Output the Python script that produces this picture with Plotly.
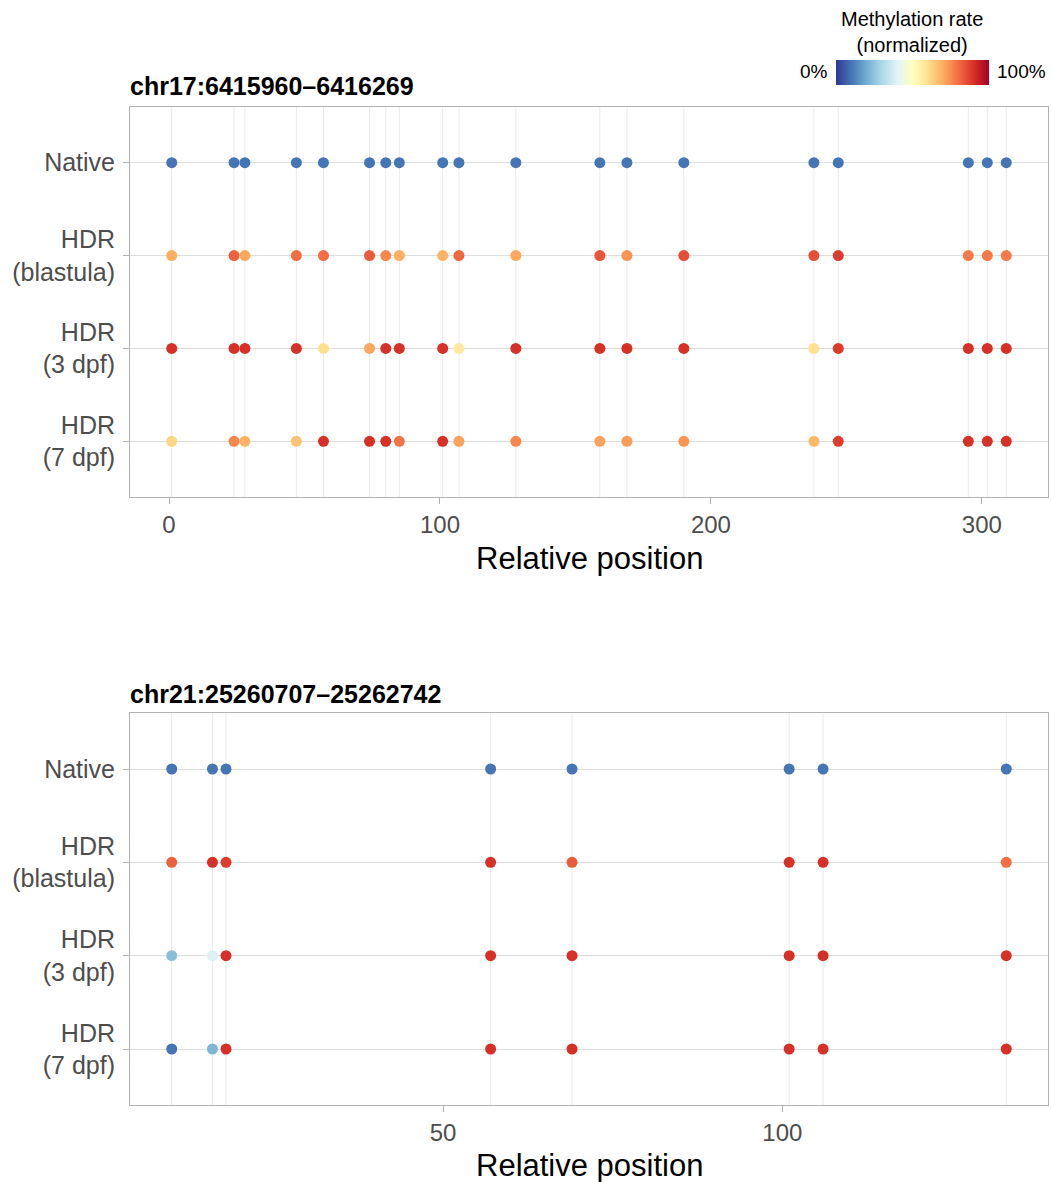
import plotly.graph_objects as go

# ---------------- data ----------------
samples = ["Native", "HDR (blastula)", "HDR (3 dpf)", "HDR (7 dpf)"]
sample_labels = ["Native", "HDR<br>(blastula)", "HDR<br>(3 dpf)", "HDR<br>(7 dpf)"]

region1_title = "chr17:6415960–6416269"
region1_pos = [1, 24, 28, 47, 57, 74, 80, 85, 101, 107, 128, 159, 169, 190, 238, 247, 295, 302, 309]
region1_native = [10, 10, 10, 10, 10, 10, 10, 10, 10, 10, 10, 10, 10, 10, 10, 10, 10, 10, 10]
region1_blastula = [70, 82, 71, 80, 80, 83, 76, 70, 69, 81, 71, 84, 74, 85, 85, 88, 78, 78, 78]
region1_3dpf = [90, 90, 90, 90, 60, 71, 90, 90, 90, 57, 90, 90, 90, 90, 60, 88, 90, 90, 90]
region1_7dpf = [62, 76, 69, 66, 90, 90, 90, 79, 90, 72, 76, 72, 73, 74, 68, 88, 90, 90, 90]
region1_ticks = [0, 100, 200, 300]

region2_title = "chr21:25260707–25262742"
region2_pos = [10, 16, 18, 57, 69, 101, 106, 133]
region2_native = [10, 10, 10, 10, 10, 10, 10, 10]
region2_blastula = [82, 90, 88, 90, 83, 90, 90, 80]
region2_3dpf = [24, 39, 90, 90, 90, 90, 90, 90]
region2_7dpf = [10, 22, 90, 90, 90, 90, 90, 90]
region2_ticks = [50, 100]

colorbar_title = "Methylation rate<br>(normalized)"
colorbar_labels = ["0%", "100%"]

# ---------------- style ----------------
W, H = 1051, 1182
FONT = "Liberation Sans, Arial, Helvetica, sans-serif"
rdylbu_r = ["#313695", "#4575b4", "#74add1", "#abd9e9", "#e0f3f8", "#ffffbf",
            "#fee090", "#fdae61", "#f46d43", "#d73027", "#a50026"]
cscale = [[i / 10, c] for i, c in enumerate(rdylbu_r)]

def px_x(p):
    return p / W

def px_y(p):
    return 1 - p / H

panel_x = [px_x(130), px_x(1048)]
panel1_y = [px_y(497), px_y(107)]
panel2_y = [px_y(1105), px_y(713)]

fig = go.Figure()

regions = [
    (region1_pos, [region1_native, region1_blastula, region1_3dpf, region1_7dpf], "x", "y"),
    (region2_pos, [region2_native, region2_blastula, region2_3dpf, region2_7dpf], "x2", "y2"),
]

first = True
for pos, rows, xa, ya in regions:
    xs, ys, cs = [], [], []
    for lab, vals in zip(sample_labels, rows):
        xs += pos
        ys += [lab] * len(pos)
        cs += vals
    fig.add_trace(go.Scatter(
        x=xs, y=ys, mode="markers", xaxis=xa, yaxis=ya,
        marker=dict(size=11, color=cs, colorscale=cscale, cmin=0, cmax=100,
                    showscale=first,
                    colorbar=dict(orientation="h", thickness=25, thicknessmode="pixels",
                                  len=153, lenmode="pixels",
                                  x=px_x(912), xanchor="center",
                                  y=px_y(60), yanchor="top",
                                  xpad=0, ypad=0, showticklabels=False, ticks="",
                                  outlinewidth=0)),
        showlegend=False, hoverinfo="skip"))
    first = False
    # vertical gridlines at CpG positions
    for p in pos:
        fig.add_shape(type="line", xref=xa, yref=ya + " domain", x0=p, x1=p, y0=0, y1=1,
                      line=dict(color="#ebebeb", width=1), layer="below")

def xr(pos):
    span = max(pos) - min(pos)
    return [min(pos) - 0.05 * span, max(pos) + 0.05 * span]

axis_common = dict(showline=True, mirror=True, linecolor="#b3b3b3", linewidth=1,
                   ticks="outside", ticklen=6, tickcolor="#b3b3b3", tickwidth=1,
                   automargin=False, zeroline=False, fixedrange=True)
xfont = dict(family=FONT, size=24, color="#4d4d4d")
yfont = dict(family=FONT, size=25, color="#4d4d4d")

fig.update_layout(
    width=W, height=H,
    margin=dict(l=0, r=0, t=0, b=0),
    paper_bgcolor="white", plot_bgcolor="white",
    font=dict(family=FONT),
    xaxis=dict(domain=panel_x, anchor="y", range=xr(region1_pos), tickmode="array",
               tickvals=region1_ticks, showgrid=False, tickfont=xfont, **axis_common),
    yaxis=dict(domain=panel1_y, anchor="x", type="category", categoryorder="array",
               categoryarray=sample_labels, range=[3.6, -0.6], showgrid=True,
               gridcolor="#dedede", gridwidth=1.2, tickfont=yfont,
               ticklabelstandoff=3, **axis_common),
    xaxis2=dict(domain=panel_x, anchor="y2", range=xr(region2_pos), tickmode="array",
                tickvals=region2_ticks, showgrid=False, tickfont=xfont, **axis_common),
    yaxis2=dict(domain=panel2_y, anchor="x2", type="category", categoryorder="array",
                categoryarray=sample_labels, range=[3.6, -0.6], showgrid=True,
                gridcolor="#dedede", gridwidth=1.2, tickfont=yfont,
                ticklabelstandoff=3, **axis_common),
)

annotations = [
    dict(text="<b>" + region1_title + "</b>", x=px_x(128), y=px_y(86), xanchor="left",
         yanchor="middle", font=dict(size=25, color="black")),
    dict(text="<b>" + region2_title + "</b>", x=px_x(128), y=px_y(694), xanchor="left",
         yanchor="middle", font=dict(size=25, color="black")),
    dict(text="Relative position", x=px_x(589), y=px_y(558), xanchor="center",
         yanchor="middle", font=dict(size=31, color="black")),
    dict(text="Relative position", x=px_x(589), y=px_y(1165), xanchor="center",
         yanchor="middle", font=dict(size=31, color="black")),
    dict(text=colorbar_title, x=px_x(912), y=px_y(32), xanchor="center",
         yanchor="middle", font=dict(size=20, color="black")),
    dict(text=colorbar_labels[0], x=px_x(830), y=px_y(72), xanchor="right",
         yanchor="middle", font=dict(size=19, color="black")),
    dict(text=colorbar_labels[1], x=px_x(995), y=px_y(72), xanchor="left",
         yanchor="middle", font=dict(size=19, color="black")),
]
for a in annotations:
    a.update(xref="paper", yref="paper", showarrow=False)
    a["font"]["family"] = FONT
fig.update_layout(annotations=annotations)

fig.write_html("out.html")
